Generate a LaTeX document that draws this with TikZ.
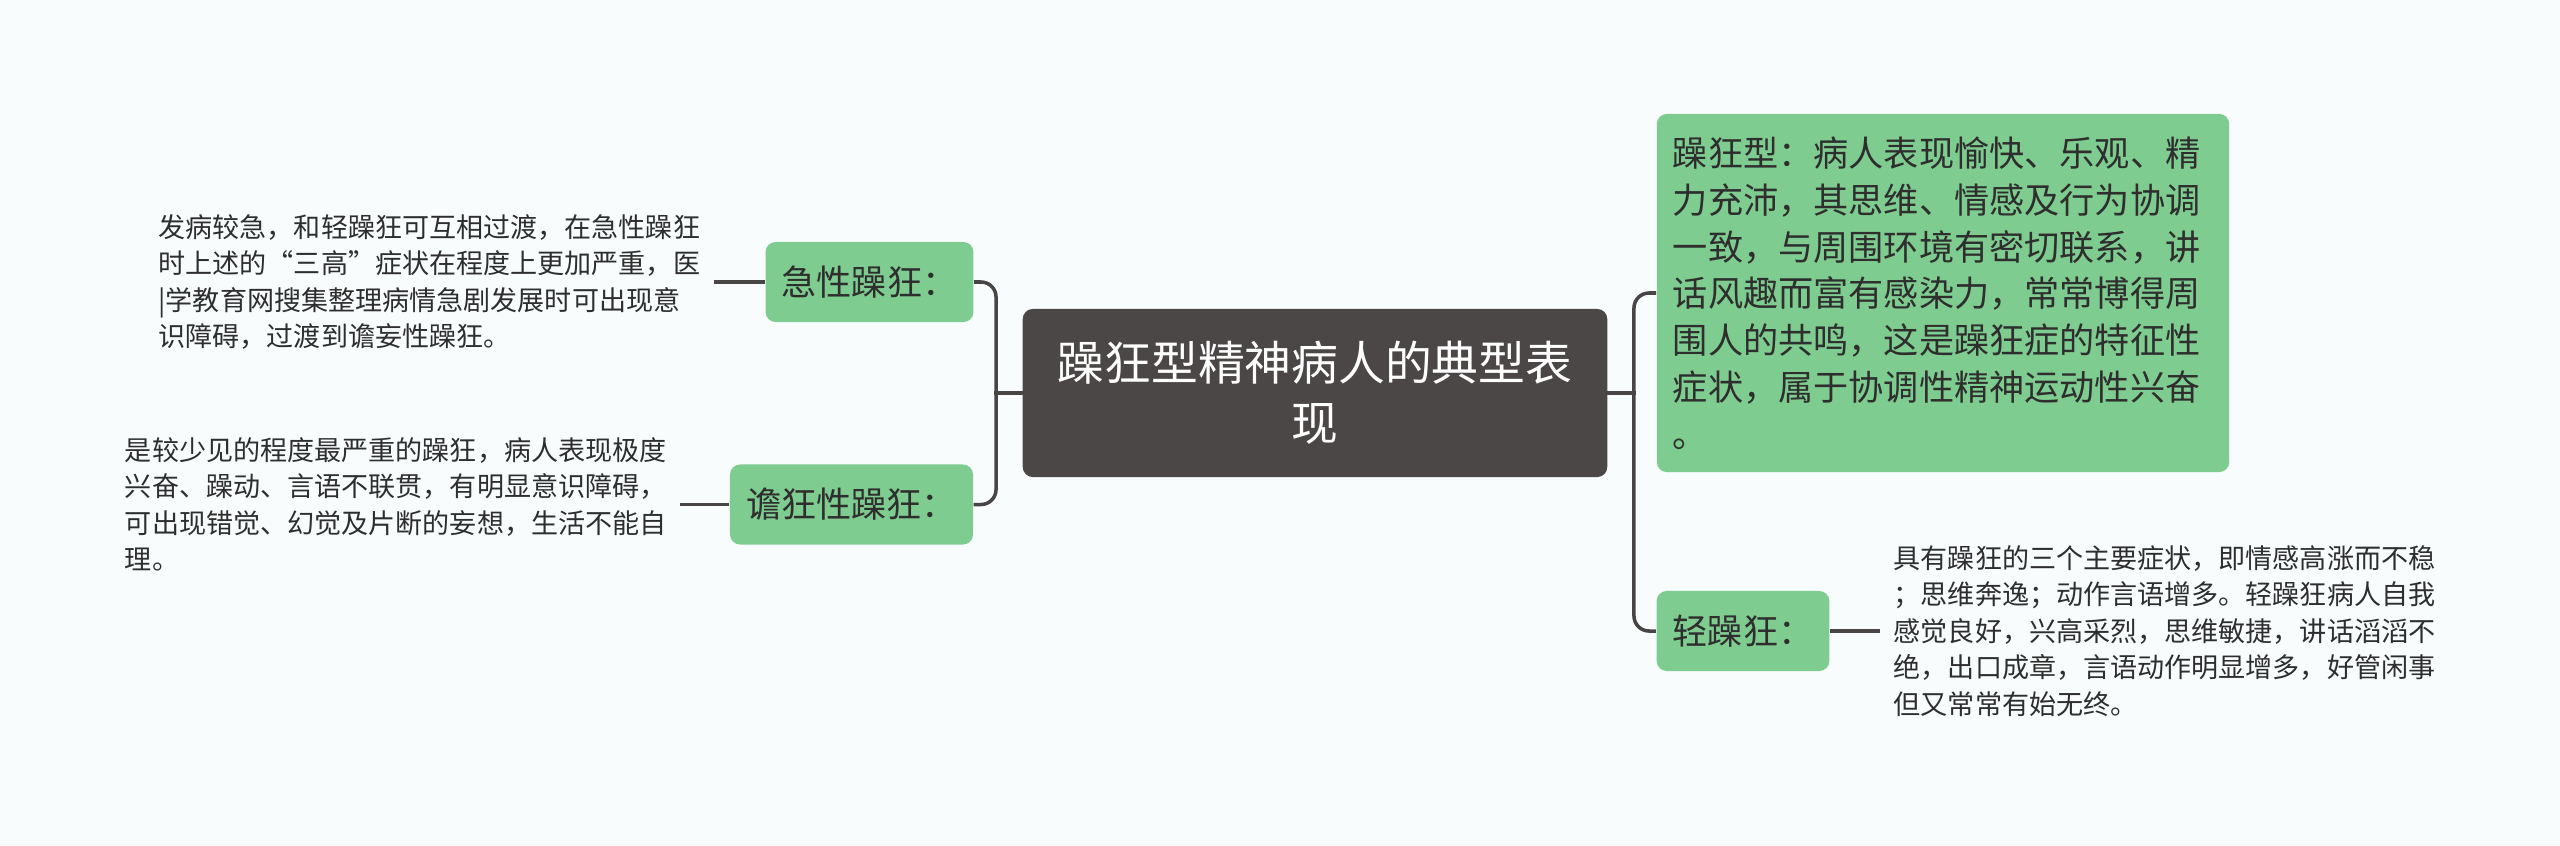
\documentclass[tikz,border=0pt]{standalone}
\usepackage{fontspec}
\setmainfont{Noto Sans CJK SC}
\usepackage{xcolor}
\usepackage{tikz}
\usetikzlibrary{positioning,calc}

\definecolor{bgcol}{HTML}{F8FCFD}
\definecolor{leafgreen}{HTML}{7FCC90}
\definecolor{rootgray}{HTML}{4C4747}
\definecolor{linkgray}{HTML}{4A4545}
\definecolor{inkgray}{HTML}{2E2E2E}

\begin{document}
\begin{tikzpicture}[x=0.01cm, y=-0.01cm,
    root/.style={draw=none, fill=rootgray, rounded corners=0.1cm, text=white, align=center,
        font=\fontsize{13.3}{17}\selectfont, inner xsep=0.35cm, minimum height=1.68cm},
    branch/.style={fill=leafgreen, rounded corners=0.1cm, text=inkgray, align=center,
        font=\fontsize{10}{13.3}\selectfont, inner xsep=0.16cm, minimum height=0.8cm},
    bigbranch/.style={branch, align=left, text width=5.4cm, minimum height=3.58cm},
    note/.style={text=inkgray, align=left, font=\fontsize{7.7}{10.4}\selectfont,
        inner xsep=0.13cm, inner ysep=0pt},
    link/.style={draw=linkgray, line width=1pt},
]
\useasboundingbox[fill=bgcol] (0,0) rectangle (2560,845);

% main nodes
\node[root] (root) at (1315,393) {躁狂型精神病人的典型表\\现};
\node[branch] (acute) at (869.5,282) {急性躁狂：};
\node[branch] (delir) at (851.5,504.5) {谵狂性躁狂：};
\node[bigbranch] (manic) at (1943,293) {躁狂型：病人表现愉快、乐观、精\\力充沛，其思维、情感及行为协调\\一致，与周围环境有密切联系，讲\\话风趣而富有感染力，常常博得周\\围人的共鸣，这是躁狂症的特征性\\症状，属于协调性精神运动性兴奋\\。};
\node[branch] (hypo) at (1743,631) {轻躁狂：};

% notes
\node[note, left=0.51cm of acute] (acutetxt) {发病较急，和轻躁狂可互相过渡，在急性躁狂\\时上述的“三高”症状在程度上更加严重，医\\|学教育网搜集整理病情急剧发展时可出现意\\识障碍，过渡到谵妄性躁狂。};
\node[note, left=0.49cm of delir] (delirtxt) {是较少见的程度最严重的躁狂，病人表现极度\\兴奋、躁动、言语不联贯，有明显意识障碍，\\可出现错觉、幻觉及片断的妄想，生活不能自\\理。};
\node[note, right=0.50cm of hypo] (hypotxt) {具有躁狂的三个主要症状，即情感高涨而不稳\\；思维奔逸；动作言语增多。轻躁狂病人自我\\感觉良好，兴高采烈，思维敏捷，讲话滔滔不\\绝，出口成章，言语动作明显增多，好管闲事\\但又常常有始无终。};

% connectors
\coordinate (jl) at ($(root.west)+(-26,0)$);
\coordinate (jr) at ($(root.east)+(26,0)$);
\draw[link, line cap=rect] (root.west) -- (jl);
\draw[link, rounded corners=0.15cm] (jl) |- (acute.east);
\draw[link, rounded corners=0.15cm] (jl) |- (delir.east);
\draw[link, line cap=rect] (root.east) -- (jr);
\draw[link, rounded corners=0.15cm] (jr) |- (manic.west);
\draw[link, rounded corners=0.15cm] (jr) |- (hypo.west);
\draw[link] (acute.west) -- (acutetxt.east);
\draw[link] (delir.west) -- (delirtxt.east);
\draw[link] (hypo.east) -- (hypotxt.west);
\end{tikzpicture}
\end{document}
